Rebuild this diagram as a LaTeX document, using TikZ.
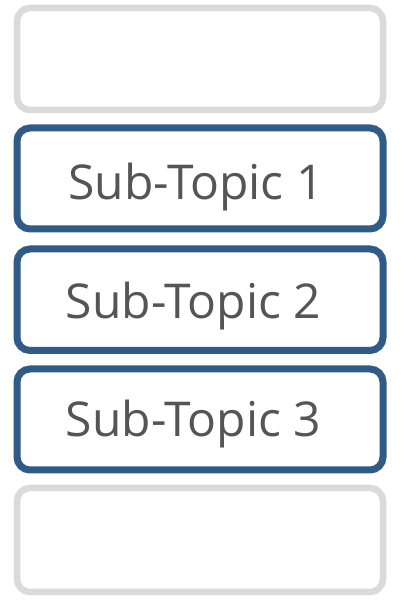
\documentclass[tikz,border=0pt]{standalone}
\usepackage{fontspec}
\setmainfont{Open Sans}
\definecolor{boxblue}{HTML}{2F5B86}
\definecolor{boxgrey}{HTML}{DADADA}
\definecolor{txtgrey}{HTML}{555555}
\begin{document}
\begin{tikzpicture}[x=1pt,y=1pt,
  box/.style={draw, line width=7pt, rounded corners=13pt, minimum width=366pt, inner sep=0pt, fill=white},
  greybox/.style={box, draw=boxgrey, line width=6.5pt},
  bluebox/.style={box, draw=boxblue},
  lbl/.style={anchor=base, text=txtgrey, font=\fontsize{48}{48}\selectfont, inner sep=0pt}]
\useasboundingbox (0,0) rectangle (400,600);
\node[greybox, minimum height=102pt] (g1) at (200,541) {};
\node[bluebox, minimum height=101pt] (b1) at (200,421.5) {};
\node[bluebox, minimum height=101.5pt] (b2) at (200,300.25) {};
\node[bluebox, minimum height=101pt] (b3) at (200,180.5) {};
\node[greybox, minimum height=104pt] (g2) at (200,60) {};
\node[lbl] (t1) at (196,400) {Sub-Topic 1};
\node[lbl] (t2) at (193.5,281) {Sub-Topic 2};
\node[lbl] (t3) at (193.5,163) {Sub-Topic 3};
\end{tikzpicture}
\end{document}
